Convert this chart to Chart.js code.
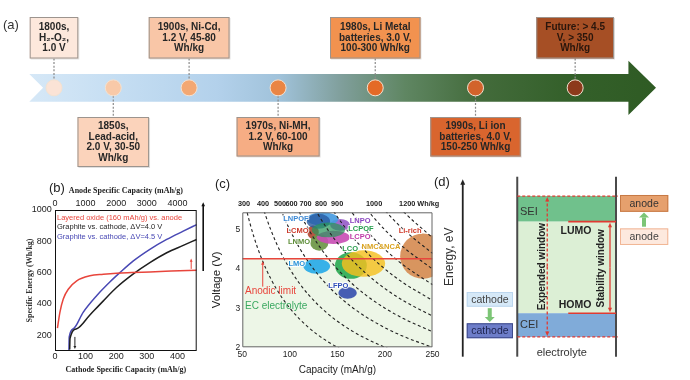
<!DOCTYPE html>
<html><head><meta charset="utf-8">
<script src="https://cdn.jsdelivr.net/npm/chart.js@4.4.1/dist/chart.umd.min.js"></script>
<style>
html,body{margin:0;padding:0;background:#fff;}
#wrap{position:relative;width:690px;height:380px;overflow:hidden;background:#fff;}
canvas{position:absolute;}
</style></head><body>
<div id="wrap">
<canvas id="cb" width="215" height="210" style="left:0;top:170px;"></canvas>
<canvas id="cc" width="245" height="210" style="left:205px;top:170px;"></canvas>
<canvas id="cd" width="260" height="210" style="left:430px;top:170px;"></canvas>
<canvas id="ca" width="690" height="170" style="left:0;top:0;"></canvas>
</div>
<script>
const SANS = "'Liberation Sans', Arial, Helvetica, sans-serif";
const SERIF = "'Liberation Serif', 'Times New Roman', serif";
Chart.defaults.font.family = SANS;
Chart.defaults.animation = false;

/* ---------- (a) timeline data ---------- */
const eraLabels = [
  ['1800s,', 'H\u2082-O\u2082,', '1.0 V'],
  ['1850s,', 'Lead-acid,', '2.0 V, 30-50', 'Wh/kg'],
  ['1900s, Ni-Cd,', '1.2 V, 45-80', 'Wh/kg'],
  ['1970s, Ni-MH,', '1.2 V, 60-100', 'Wh/kg'],
  ['1980s, Li Metal', 'batteries, 3.0 V,', '100-300 Wh/kg'],
  ['1990s, Li ion', 'batteries, 4.0 V,', '150-250 Wh/kg'],
  ['Future: > 4.5', 'V, > 350', 'Wh/kg']
];
const eraTimeline = [3.94, 13.4, 25.5, 39.7, 55.2, 71.2, 87.1];
const eraCircleColors = ['#fbe3d6', '#f8c9a8', '#f3a873', '#ea8544', '#e46a27', '#d2632b', '#8c3a1b'];
const eraBoxColors = ['#fde8dc', '#fbd3bb', '#f9c6a7', '#f6ad84', '#f2924f', '#d9652e', '#a64f25'];

/* ---------- (b) data ---------- */
const cathodeCapRed = [8, 16, 27, 44, 71, 114, 158, 201, 250, 310, 380, 463];
const energyRed = [246, 347, 432, 496, 548, 580, 590, 597, 601, 605, 610, 616];
const cathodeCapBlack = [48, 49, 71, 114, 158, 201, 256, 310, 365, 419, 463];
const energyBlack = [110, 179, 242, 330, 420, 505, 592, 664, 727, 774, 812];
const cathodeCapBlue = [45.5, 46.5, 60, 92, 136, 180, 212, 256, 310, 365, 419, 463];
const energyBlue = [105, 190, 242, 347, 453, 542, 600, 675, 749, 812, 865, 907];
const cathodeTicksB = [0, 100, 200, 300, 400];
const anodeTicksB = [0, 1000, 2000, 3000, 4000];
const energyTicksB = [200, 400, 600, 800, 1000];
const legendB = ['Layered oxide (160 mAh/g) vs. anode', 'Graphite vs. cathode, \u0394V=4.0 V', 'Graphite vs. cathode, \u0394V=4.5 V'];
const colorsB = ['#e8453c', '#1e1e1e', '#4848b4'];

/* ---------- (c) data ---------- */
const ellipseNames = ['Li-rich', 'LCMO', 'LNMO', 'LCPO', 'LNPO', 'LNPOF', 'LNPOF core', 'LCPOF', 'LMO', 'LCO', 'NMC&NCA', 'LFPO'];
const ellipseCap = [240, 124.4, 131, 145.8, 152.8, 134.4, 130, 140.5, 128.3, 164.2, 177.4, 160.7];
const ellipseVolt = [4.33, 4.94, 4.68, 4.81, 5.13, 5.28, 5.22, 5.0, 4.07, 4.09, 4.14, 3.39];
const ellipseCapHalf = [24, 6, 9.6, 17.5, 10.5, 16.6, 12.3, 17.5, 14, 16.7, 22.8, 9.7];
const ellipseVoltHalf = [0.58, 0.17, 0.21, 0.17, 0.15, 0.17, 0.19, 0.19, 0.19, 0.34, 0.34, 0.15];
const ellipseColors = ['rgba(214,140,84,0.92)', 'rgba(178,72,52,0.92)', 'rgba(108,150,70,0.92)', 'rgba(200,76,180,0.9)',
  'rgba(150,90,200,0.9)', 'rgba(70,155,225,0.92)', 'rgba(40,90,160,0.8)', 'rgba(40,150,90,0.72)',
  'rgba(40,170,232,0.92)', 'rgba(45,170,85,0.92)', 'rgba(245,192,30,0.82)', 'rgba(55,80,175,0.92)'];
const labelNames = ['LNPOF', 'LNPO', 'LCMO', 'LCPOF', 'LCPO', 'Li-rich', 'LNMO', 'LCO', 'NMC&NCA', 'LMO', 'LFPO'];
const labelCap = [106.3, 173.9, 108.1, 174.7, 173.9, 226.5, 109.7, 163.4, 195.8, 107.3, 151];
const labelVolt = [5.29, 5.24, 4.98, 5.03, 4.81, 4.98, 4.68, 4.52, 4.56, 4.14, 3.58];
const labelColors = ['#3d8ad6', '#8a45c0', '#cc3b2c', '#28a050', '#c03aa8', '#d03a2a', '#5e8e3a', '#2a9e4e', '#d9a21e', '#2b93d8', '#3050b8'];
const isoEnergies = [300, 400, 500, 600, 700, 800, 900, 1000, 1100, 1200];
const isoCapSamples = [50, 52, 55, 58, 62, 66, 70, 75, 80, 86, 92, 100, 110, 120, 130, 140, 150, 165, 180, 200, 220, 250];
const anodicLimit = 4.26;
const topTickCaps = [51.8, 71.8, 89.7, 101.8, 116.5, 132.8, 149.7, 188.6, 236];
const topTickLabels = ['300', '400', '500', '600', '700', '800', '900', '1000', '1200 Wh/kg'];
const capTicks = [50, 100, 150, 200, 250];
const voltTicks = [2, 3, 4, 5];

/* ---------- (d) schematic levels ---------- */
const seiTop = 8.76, lumo = 7.54, homo = 3.18, ceiBottom = 2.05;

/* ---------- helpers ---------- */
function arrow(ctx, x1, y1, x2, y2, color, w, head, dash) {
  const ang = Math.atan2(y2 - y1, x2 - x1);
  ctx.save();
  ctx.strokeStyle = color; ctx.fillStyle = color; ctx.lineWidth = w;
  if (dash) ctx.setLineDash(dash);
  ctx.beginPath(); ctx.moveTo(x1, y1);
  ctx.lineTo(x2 - Math.cos(ang) * head * 0.7, y2 - Math.sin(ang) * head * 0.7); ctx.stroke();
  ctx.setLineDash([]);
  ctx.beginPath(); ctx.moveTo(x2, y2);
  ctx.lineTo(x2 - head * Math.cos(ang - 0.42), y2 - head * Math.sin(ang - 0.42));
  ctx.lineTo(x2 - head * Math.cos(ang + 0.42), y2 - head * Math.sin(ang + 0.42));
  ctx.closePath(); ctx.fill();
  ctx.restore();
}
const ticksFrom = arr => s => { s.ticks = arr.map(v => ({ value: v })); };
const noGrid = { display: false, drawTicks: false };

/* ---------- (a) chart ---------- */
const timelinePlugin = {
  id: 'timeline',
  beforeDatasetsDraw(chart) {
    const { ctx } = chart; const xs = chart.scales.x, ys = chart.scales.y;
    const L = xs.getPixelForValue(0), T = xs.getPixelForValue(100), H = xs.getPixelForValue(95.6), N = xs.getPixelForValue(2.2);
    const top = ys.getPixelForValue(1), bot = ys.getPixelForValue(-1), mid = ys.getPixelForValue(0);
    const ht = ys.getPixelForValue(1.96), hb = ys.getPixelForValue(-1.96);
    const g = ctx.createLinearGradient(L, 0, T, 0);
    g.addColorStop(0, '#d6e8f7'); g.addColorStop(0.15, '#c4ddf2'); g.addColorStop(0.3, '#b3d1eb');
    g.addColorStop(0.4, '#a0c2da'); g.addColorStop(0.5, '#7f9e9a'); g.addColorStop(0.6, '#5f8662');
    g.addColorStop(0.72, '#436b3b'); g.addColorStop(0.86, '#34602a'); g.addColorStop(1, '#2f5b24');
    ctx.save();
    ctx.beginPath(); ctx.moveTo(L, top); ctx.lineTo(H, top); ctx.lineTo(H, ht); ctx.lineTo(T, mid);
    ctx.lineTo(H, hb); ctx.lineTo(H, bot); ctx.lineTo(L, bot); ctx.lineTo(N, mid); ctx.closePath();
    ctx.fillStyle = g; ctx.fill();
    const meta = chart.getDatasetMeta(0);
    ctx.strokeStyle = '#8a8a8a'; ctx.lineWidth = 1.2; ctx.setLineDash([2, 1.6]);
    meta.data.forEach((pt, i) => {
      ctx.beginPath();
      if (i % 2 === 0) { ctx.moveTo(pt.x, chart.chartArea.top - 15.5); ctx.lineTo(pt.x, pt.y - 8); }
      else { ctx.moveTo(pt.x, pt.y + 8); ctx.lineTo(pt.x, chart.chartArea.bottom + 15.3); }
      ctx.stroke();
    });
    ctx.restore();
  },
  afterDatasetsDraw(chart) {
    const { ctx, chartArea } = chart; const meta = chart.getDatasetMeta(0);
    ctx.save();
    ctx.font = `bold 10px ${SANS}`; ctx.textAlign = 'center'; ctx.textBaseline = 'middle';
    meta.data.forEach((pt, i) => {
      const lines = eraLabels[i];
      const w = Math.max(...lines.map(t => ctx.measureText(t).width)) + 18;
      const isTop = i % 2 === 0;
      const h = isTop ? lines.length * 10.5 + 10 : lines.length * 10.5 + 8;
      const y0 = isTop ? chartArea.top - 57 : chartArea.bottom + 15.3;
      const x0 = pt.x - w / 2;
      ctx.fillStyle = 'rgba(0,0,0,0.12)'; ctx.fillRect(x0 + 1, y0 + 1, w, h);
      ctx.fillStyle = eraBoxColors[i]; ctx.fillRect(x0, y0, w, h);
      ctx.strokeStyle = '#9c948e'; ctx.lineWidth = 1; ctx.strokeRect(x0 + 0.5, y0 + 0.5, w - 1, h - 1);
      ctx.fillStyle = i === 6 ? '#2a160c' : '#262626';
      const yc = y0 + h / 2 - (lines.length - 1) * 10.5 / 2;
      lines.forEach((t, k) => ctx.fillText(t, pt.x, yc + k * 10.5));
    });
    ctx.font = `13px ${SANS}`; ctx.fillStyle = '#333'; ctx.textAlign = 'left';
    ctx.fillText('(a)', 3, 25);
    ctx.restore();
  }
};
new Chart(document.getElementById('ca'), {
  type: 'scatter',
  data: { datasets: [{ data: eraTimeline.map(v => ({ x: v, y: 0 })), pointRadius: 8, pointBackgroundColor: eraCircleColors,
    pointBorderColor: '#f3e2d2', pointBorderWidth: 1, clip: false }] },
  options: {
    responsive: false, animation: false, events: [],
    layout: { padding: { left: 29.3, right: 34, top: 74, bottom: 68.3 } },
    scales: { x: { type: 'linear', min: 0, max: 100, display: false }, y: { type: 'linear', min: -1, max: 1, display: false } },
    plugins: { legend: { display: false }, tooltip: { enabled: false } }
  },
  plugins: [timelinePlugin]
});

/* ---------- (b) chart ---------- */
const toXY = (xs, ys) => xs.map((x, i) => ({ x, y: ys[i] }));
const panelBPlugin = {
  id: 'pb',
  afterDraw(chart) {
    const { ctx, chartArea: a } = chart; const xs = chart.scales.x, ys = chart.scales.y;
    ctx.save();
    ctx.strokeStyle = '#111'; ctx.lineWidth = 1;
    ctx.strokeRect(a.left + 0.5, a.top + 0.5, a.right - a.left - 1, a.bottom - a.top - 1);
    ctx.font = `7.5px ${SANS}`; ctx.textBaseline = 'middle'; ctx.textAlign = 'left';
    legendB.forEach((t, i) => { ctx.fillStyle = colorsB[i]; ctx.fillText(t, a.left + 2, a.top + 8 + i * 9.3); });
    arrow(ctx, xs.getPixelForValue(445), ys.getPixelForValue(624), xs.getPixelForValue(445), ys.getPixelForValue(690), colorsB[0], 1, 3.5);
    arrow(ctx, xs.getPixelForValue(65), ys.getPixelForValue(190), xs.getPixelForValue(65), ys.getPixelForValue(112), '#222', 1, 3.5);
    arrow(ctx, a.right + 6.5, ys.getPixelForValue(611), a.right + 6.5, ys.getPixelForValue(1050), '#111', 1.6, 4.5);
    ctx.font = `13px ${SANS}`; ctx.fillStyle = '#222'; ctx.textAlign = 'left';
    ctx.fillText('(b)', 49, 18);
    ctx.restore();
  }
};
const lineDs = (xs, ys, c) => ({ data: toXY(xs, ys), borderColor: c, borderWidth: 1.5, pointRadius: 0, fill: false, cubicInterpolationMode: 'monotone' });
new Chart(document.getElementById('cb'), {
  type: 'line',
  data: { datasets: [lineDs(cathodeCapRed, energyRed, colorsB[0]), lineDs(cathodeCapBlack, energyBlack, colorsB[1]), lineDs(cathodeCapBlue, energyBlue, colorsB[2])] },
  options: {
    responsive: false, animation: false, events: [],
    layout: { padding: { left: 0, right: 18.3, top: 0, bottom: 0 } },
    plugins: { legend: { display: false }, tooltip: { enabled: false } },
    scales: {
      x: { type: 'linear', position: 'bottom', min: 0, max: 463, afterBuildTicks: ticksFrom(cathodeTicksB),
        ticks: { font: { size: 9 }, color: '#222', padding: 0.3, maxRotation: 0, autoSkip: false, callback: v => String(v) },
        grid: noGrid, border: { display: false },
        title: { display: true, text: 'Cathode Specific Capacity (mAh/g)', color: '#222', font: { family: SERIF, size: 8, weight: 'bold' }, padding: { top: 0, bottom: 5.2 } },
        afterFit: s => { s.height = 29; } },
      x2: { type: 'linear', axis: 'x', position: 'top', min: 0, max: 4630, afterBuildTicks: ticksFrom(anodeTicksB),
        ticks: { font: { size: 9 }, color: '#222', padding: 1.3, maxRotation: 0, autoSkip: false, callback: v => String(v) },
        grid: noGrid, border: { display: false },
        title: { display: true, text: 'Anode Specific Capacity (mAh/g)', color: '#222', font: { family: SERIF, size: 8, weight: 'bold' }, padding: { top: 15.9, bottom: 0 } },
        afterFit: s => { s.height = 40; } },
      y: { type: 'linear', min: 100, max: 1000, afterBuildTicks: ticksFrom(energyTicksB),
        ticks: { font: { size: 9 }, color: '#222', padding: 3.3, autoSkip: false, callback: v => String(v) },
        grid: noGrid, border: { display: false },
        title: { display: true, text: 'Specific Energy (Wh/kg)', color: '#333', font: { family: SERIF, size: 8, weight: 'bold' }, padding: { top: 25.2, bottom: 0 } },
        afterFit: s => { s.width = 55; } }
    }
  },
  plugins: [panelBPlugin]
});

/* ---------- (c) chart ---------- */
const panelCPlugin = {
  id: 'pc',
  afterDatasetDraw(chart, args) {
    if (args.index !== 0) return;
    const { ctx, chartArea: a } = chart; const xs = chart.scales.x, ys = chart.scales.y;
    ctx.save();
    ctx.beginPath(); ctx.rect(a.left, a.top, a.right - a.left, a.bottom - a.top); ctx.clip();
    ellipseNames.forEach((n, i) => {
      const cx = xs.getPixelForValue(ellipseCap[i]), cy = ys.getPixelForValue(ellipseVolt[i]);
      const rx = Math.abs(xs.getPixelForValue(ellipseCap[i] + ellipseCapHalf[i]) - cx);
      const ry = Math.abs(ys.getPixelForValue(ellipseVolt[i] + ellipseVoltHalf[i]) - cy);
      ctx.beginPath(); ctx.ellipse(cx, cy, rx, ry, 0, 0, Math.PI * 2);
      ctx.fillStyle = ellipseColors[i]; ctx.fill();
    });
    ctx.restore();
  },
  afterDatasetsDraw(chart) {
    const { ctx, chartArea: a } = chart; const xs = chart.scales.x, ys = chart.scales.y;
    ctx.save();
    ctx.font = `bold 7.5px ${SANS}`; ctx.textAlign = 'center'; ctx.textBaseline = 'middle';
    ctx.lineJoin = 'round';
    labelNames.forEach((t, i) => {
      const x = xs.getPixelForValue(labelCap[i]), y = ys.getPixelForValue(labelVolt[i]);
      ctx.strokeStyle = 'rgba(255,255,255,0.85)'; ctx.lineWidth = 2; ctx.strokeText(t, x, y);
      ctx.fillStyle = labelColors[i]; ctx.fillText(t, x, y);
    });
    arrow(ctx, xs.getPixelForValue(71.5), ys.getPixelForValue(3.55), xs.getPixelForValue(71.5), ys.getPixelForValue(4.2), '#e8453c', 1, 4);
    ctx.font = `10px ${SANS}`; ctx.textAlign = 'left';
    ctx.fillStyle = '#e8453c'; ctx.fillText('Anodic limit', a.left + 2.7, ys.getPixelForValue(3.44));
    ctx.fillStyle = '#3aa860'; ctx.fillText('EC electrolyte', a.left + 2.7, ys.getPixelForValue(3.05));
    ctx.strokeStyle = '#666'; ctx.lineWidth = 1;
    ctx.strokeRect(a.left + 0.5, a.top + 0.5, a.right - a.left - 1, a.bottom - a.top - 1);
    ctx.font = `13px ${SANS}`; ctx.fillStyle = '#222';
    ctx.fillText('(c)', 10, 14);
    ctx.restore();
  }
};
const anodicLine = [{ x: capTicks[0], y: anodicLimit }, { x: capTicks[capTicks.length - 1], y: anodicLimit }];
const cDatasets = [
  { data: anodicLine, borderWidth: 0, borderColor: 'rgba(0,0,0,0)', backgroundColor: '#edf6e7', fill: 'start', pointRadius: 0, order: 3 },
  ...isoEnergies.map(E => ({ data: isoCapSamples.map(c => ({ x: c, y: E / c })), borderColor: '#222', borderWidth: 1.1, borderDash: [3, 2.6],
    pointRadius: 0, fill: false, cubicInterpolationMode: 'monotone', order: 2 })),
  { data: anodicLine, borderColor: '#e8453c', borderWidth: 1.5, pointRadius: 0, fill: false, order: 1 }
];
new Chart(document.getElementById('cc'), {
  type: 'line',
  data: { datasets: cDatasets },
  options: {
    responsive: false, animation: false, events: [],
    layout: { padding: { left: 0, right: 17.5, top: 0, bottom: 0 } },
    plugins: { legend: { display: false }, tooltip: { enabled: false } },
    scales: {
      x: { type: 'linear', position: 'bottom', min: 50, max: 250, afterBuildTicks: ticksFrom(capTicks),
        ticks: { font: { size: 8.5 }, color: '#222', padding: 2.6, maxRotation: 0, autoSkip: false, callback: v => String(v) },
        grid: noGrid, border: { display: false },
        title: { display: true, text: 'Capacity (mAh/g)', color: '#222', font: { size: 10 }, padding: { top: 0, bottom: 4 } },
        afterFit: s => { s.height = 32.7; } },
      x2: { type: 'linear', axis: 'x', position: 'top', min: 50, max: 250, afterBuildTicks: ticksFrom(topTickCaps),
        ticks: { font: { size: 7.3, weight: 'bold' }, color: '#222', padding: 4.4, maxRotation: 0, autoSkip: false, callback: (v, i) => topTickLabels[i] },
        grid: noGrid, border: { display: false },
        afterFit: s => { s.height = 42.3; } },
      y: { type: 'linear', min: 2, max: 5.45, afterBuildTicks: ticksFrom(voltTicks),
        ticks: { font: { size: 8.5 }, color: '#222', padding: 2, autoSkip: false, callback: v => String(v) },
        grid: noGrid, border: { display: false },
        title: { display: true, text: 'Voltage (V)', color: '#222', font: { size: 11.5 }, padding: { top: 4.8, bottom: 0 } },
        afterFit: s => { s.width = 37.3; } }
    }
  },
  plugins: [panelCPlugin]
});

/* ---------- (d) chart ---------- */
const panelDPlugin = {
  id: 'pd',
  afterDraw(chart) {
    const { ctx } = chart; const xs = chart.scales.x, ys = chart.scales.y;
    const X = v => xs.getPixelForValue(v), Y = v => ys.getPixelForValue(v);
    const colL = 30.9, colR = 70.4;
    ctx.save();
    ctx.fillStyle = '#70c18c'; ctx.fillRect(X(colL), Y(seiTop), X(colR) - X(colL), Y(lumo) - Y(seiTop));
    ctx.fillStyle = '#dcefd5'; ctx.fillRect(X(colL), Y(lumo), X(colR) - X(colL), Y(homo) - Y(lumo));
    ctx.fillStyle = '#80abd9'; ctx.fillRect(X(colL), Y(homo), X(colR) - X(colL), Y(ceiBottom) - Y(homo));
    ctx.strokeStyle = '#4a4a4a'; ctx.lineWidth = 2;
    [colL, colR].forEach(c => { ctx.beginPath(); ctx.moveTo(X(c), Y(9.68)); ctx.lineTo(X(c), Y(1.11)); ctx.stroke(); });
    ctx.strokeStyle = '#e03a32'; ctx.lineWidth = 1.3; ctx.setLineDash([3, 2]);
    [seiTop, ceiBottom].forEach(v => { ctx.beginPath(); ctx.moveTo(X(colL), Y(v)); ctx.lineTo(X(71.2), Y(v)); ctx.stroke(); });
    ctx.setLineDash([]);
    ctx.lineWidth = 1.6;
    [lumo, homo].forEach(v => { ctx.beginPath(); ctx.moveTo(X(51.3), Y(v)); ctx.lineTo(X(colR), Y(v)); ctx.stroke(); });
    const ex = X(42.9), ymid = (Y(seiTop) + Y(ceiBottom)) / 2;
    arrow(ctx, ex, ymid, ex, Y(seiTop) + 1, '#e03a32', 1.3, 5, [3, 2]);
    arrow(ctx, ex, ymid, ex, Y(ceiBottom) - 1, '#e03a32', 1.3, 5, [3, 2]);
    const sx = X(68), smid = (Y(lumo) + Y(homo)) / 2;
    arrow(ctx, sx, smid, sx, Y(lumo) + 1, '#e03a32', 1.3, 5);
    arrow(ctx, sx, smid, sx, Y(homo) - 1, '#e03a32', 1.3, 5);
    arrow(ctx, X(9.1), Y(1.11), X(9.1), Y(9.56), '#222', 1.8, 6);
    ctx.textBaseline = 'middle';
    ctx.fillStyle = '#333'; ctx.font = `11px ${SANS}`; ctx.textAlign = 'left';
    ctx.fillText('SEI', X(32), Y(8.01)); ctx.fillText('CEI', X(32), Y(2.62));
    ctx.textAlign = 'center';
    ctx.fillText('electrolyte', X(48.7), Y(1.3));
    ctx.font = `bold 10.5px ${SANS}`; ctx.fillStyle = '#222';
    ctx.fillText('LUMO', X(54.4), Y(7.1)); ctx.fillText('HOMO', X(54), Y(3.57));
    const vtext = (t, x, y, font, col) => { ctx.save(); ctx.translate(X(x), Y(y)); ctx.rotate(-Math.PI / 2); ctx.font = font; ctx.fillStyle = col; ctx.fillText(t, 0, 0); ctx.restore(); };
    vtext('Expended window', 40.7, 5.4, `bold 10px ${SANS}`, '#222');
    vtext('Stability window', 64.3, 5.32, `bold 10px ${SANS}`, '#222');
    vtext('Energy, eV', 4, 5.87, `12px ${SANS}`, '#333');
    const box = (x1, x2, y1, y2, fill, stroke, text, tcol) => {
      ctx.fillStyle = fill; ctx.fillRect(X(x1), Y(y2), X(x2) - X(x1), Y(y1) - Y(y2));
      ctx.strokeStyle = stroke; ctx.lineWidth = 1; ctx.strokeRect(X(x1) + 0.5, Y(y2) + 0.5, X(x2) - X(x1) - 1, Y(y1) - Y(y2) - 1);
      ctx.fillStyle = tcol; ctx.font = `10.5px ${SANS}`; ctx.textAlign = 'center';
      ctx.fillText(text, (X(x1) + X(x2)) / 2, (Y(y1) + Y(y2)) / 2 + 0.5);
    };
    box(72, 91.3, 8.01, 8.81, '#e6a06d', '#c77a45', 'anode', '#333');
    box(72, 91.3, 6.43, 7.22, '#fde9de', '#f1b595', 'anode', '#444');
    box(10.7, 29.2, 3.49, 4.19, '#d6e9f8', '#bcd6ee', 'cathode', '#444');
    box(10.7, 29.2, 1.99, 2.70, '#6d7dc9', '#3e4a8a', 'cathode', '#1e2450');
    const garrow = (x, yFrom, yTo) => {
      const px = X(x), p1 = Y(yFrom), p2 = Y(yTo), dir = Math.sign(p2 - p1), hl = 5;
      ctx.fillStyle = '#7cc576';
      ctx.fillRect(px - 2, Math.min(p1, p2 - dir * hl), 4, Math.abs(p2 - dir * hl - p1));
      ctx.beginPath(); ctx.moveTo(px - 5, p2 - dir * hl); ctx.lineTo(px + 5, p2 - dir * hl); ctx.lineTo(px, p2); ctx.closePath(); ctx.fill();
    };
    garrow(81.6, 7.3, 7.98);
    garrow(19.9, 3.42, 2.76);
    ctx.font = `13px ${SANS}`; ctx.fillStyle = '#222'; ctx.textAlign = 'left';
    ctx.fillText('(d)', X(0) - 6, Y(9.4));
    ctx.restore();
  }
};
new Chart(document.getElementById('cd'), {
  type: 'scatter',
  data: { datasets: [{ data: [] }] },
  options: {
    responsive: false, animation: false, events: [],
    layout: { padding: { left: 10, right: 0, top: 0, bottom: 0 } },
    plugins: { legend: { display: false }, tooltip: { enabled: false } },
    scales: { x: { type: 'linear', min: 0, max: 100, display: false }, y: { type: 'linear', min: 0, max: 10, display: false } }
  },
  plugins: [panelDPlugin]
});
</script>
</body></html>
